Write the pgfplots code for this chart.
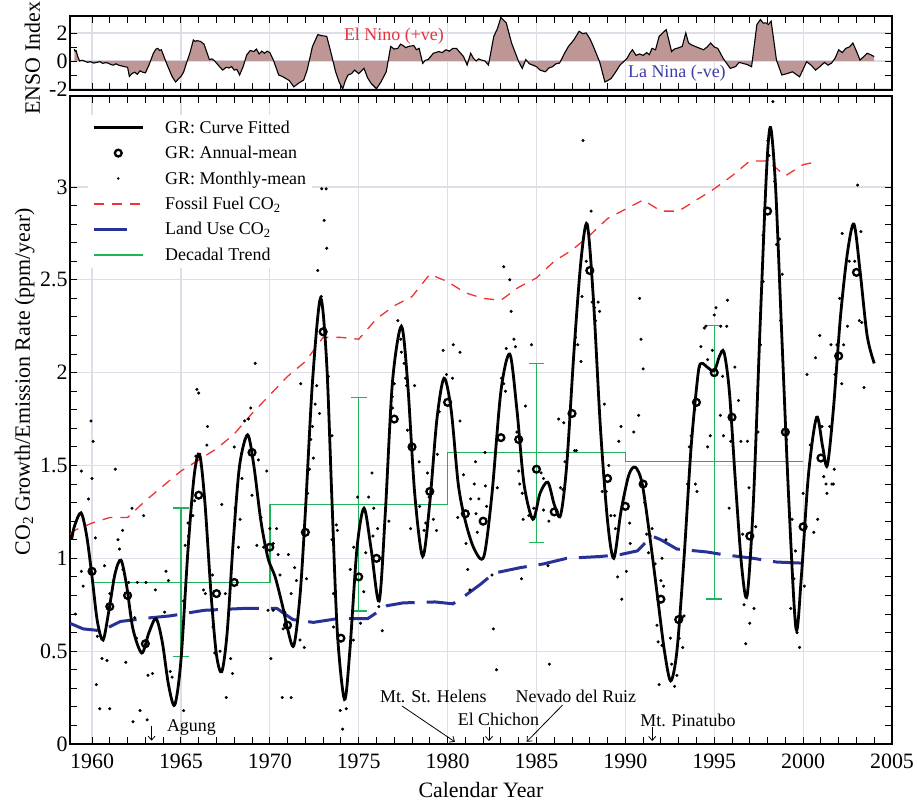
\documentclass[border=0pt]{standalone}
\usepackage{fontspec}
\setmainfont{Liberation Serif}
\usepackage{pgfplots}
\usepackage{pgfplotstable}
\pgfplotsset{compat=1.18}
\usetikzlibrary{arrows.meta}
\definecolor{gridc}{RGB}{222,222,232}
\definecolor{ensofill}{RGB}{190,150,150}
\definecolor{ffred}{RGB}{240,50,50}
\definecolor{lublue}{RGB}{40,50,150}
\definecolor{trendgreen}{RGB}{30,180,90}
\definecolor{ninored}{RGB}{230,50,60}
\definecolor{ninablue}{RGB}{60,60,170}
\newcommand{\lab}{\fontsize{22}{26}\selectfont}
\newcommand{\sml}{\fontsize{18}{21}\selectfont}

\pgfplotstableread{
x y
1959.00 0.84
1959.05 0.70
1959.10 0.75
1959.20 0.30
1959.30 0.00
1959.45 0.05
1959.60 -0.02
1959.75 -0.10
1959.90 -0.05
1960.10 -0.15
1960.26 -0.10
1960.45 -0.05
1960.60 -0.17
1960.75 -0.12
1960.90 -0.15
1961.05 -0.25
1961.20 -0.30
1961.35 -0.20
1961.50 -0.30
1961.65 -0.35
1961.80 -0.40
1962.00 -0.45
1962.10 -1.10
1962.25 -0.90
1962.40 -0.80
1962.55 -0.95
1962.70 -0.70
1962.85 -0.80
1963.00 -0.85
1963.20 -0.30
1963.45 0.55
1963.60 0.85
1963.70 0.90
1963.80 0.75
1963.90 0.80
1964.20 -0.20
1964.50 -1.10
1964.70 -1.50
1964.85 -1.30
1965.00 -1.10
1965.15 -0.80
1965.30 -0.20
1965.50 0.55
1965.70 1.50
1965.80 1.40
1965.90 1.45
1966.10 1.40
1966.30 1.20
1966.60 0.10
1966.75 0.15
1966.90 0.00
1967.10 -0.30
1967.35 -0.65
1967.55 -0.45
1967.70 -0.50
1967.85 -0.40
1968.00 -0.65
1968.15 -0.60
1968.30 -1.00
1968.50 -0.40
1968.70 0.43
1968.90 0.75
1969.10 0.67
1969.25 0.85
1969.40 0.50
1969.55 0.70
1969.70 0.55
1969.85 0.70
1970.00 0.60
1970.20 0.07
1970.50 -1.00
1970.70 -1.10
1970.90 -1.25
1971.10 -1.40
1971.35 -1.85
1971.60 -1.60
1971.90 -1.37
1972.10 -0.65
1972.40 1.04
1972.70 1.88
1972.95 1.80
1973.20 1.76
1973.40 0.80
1973.70 -0.77
1973.90 -1.50
1974.10 -1.98
1974.25 -1.40
1974.40 -1.00
1974.60 -0.90
1974.77 -0.65
1975.00 -0.90
1975.30 -0.53
1975.50 -1.20
1975.70 -1.60
1976.00 -1.98
1976.25 -1.50
1976.55 -0.77
1976.80 1.04
1977.00 0.85
1977.20 0.90
1977.35 1.20
1977.50 1.10
1977.65 0.95
1977.80 1.04
1978.10 1.10
1978.25 0.80
1978.40 0.90
1978.60 -0.17
1978.75 0.05
1978.90 0.10
1979.20 0.55
1979.50 0.67
1979.70 0.60
1979.90 0.80
1980.10 0.70
1980.30 0.90
1980.50 0.90
1980.70 0.60
1980.90 0.31
1981.10 -0.29
1981.30 0.55
1981.45 0.20
1981.60 0.00
1981.75 0.15
1981.90 0.07
1982.10 0.00
1982.30 -0.29
1982.60 1.76
1982.80 2.30
1983.00 3.10
1983.30 2.72
1983.60 1.28
1984.00 -0.05
1984.20 -0.53
1984.40 0.10
1984.60 -0.20
1984.80 -0.30
1985.00 -0.40
1985.20 -0.65
1985.50 -0.77
1985.70 -0.50
1985.90 -0.41
1986.10 -0.20
1986.30 -0.15
1986.60 0.60
1986.80 1.04
1987.10 1.50
1987.40 2.12
1987.60 1.95
1987.80 2.00
1988.00 1.60
1988.20 1.04
1988.55 -0.05
1988.85 -1.50
1989.00 -1.40
1989.20 -1.25
1989.50 -0.70
1989.70 -0.29
1990.10 0.19
1990.25 0.55
1990.40 0.80
1990.60 0.40
1990.80 0.50
1991.00 0.40
1991.20 0.60
1991.35 0.45
1991.50 0.90
1991.70 0.80
1991.90 1.76
1992.30 2.24
1992.60 0.67
1992.75 0.85
1992.90 0.90
1993.20 1.04
1993.40 2.00
1993.55 1.30
1993.70 1.16
1994.00 1.00
1994.20 0.90
1994.40 0.80
1994.60 1.00
1994.80 1.28
1995.00 1.00
1995.20 0.90
1995.50 0.19
1995.90 -0.53
1996.20 -0.40
1996.40 -0.10
1996.60 -0.17
1996.85 -0.25
1997.10 -0.41
1997.40 2.60
1997.60 2.96
1997.75 2.70
1997.90 2.72
1998.05 2.60
1998.20 2.84
1998.50 0.07
1998.80 -1.00
1999.10 -0.90
1999.40 -0.77
1999.60 -0.95
1999.80 -1.13
2000.20 -0.05
2000.45 -0.30
2000.70 -0.65
2000.95 -0.40
2001.20 -0.10
2001.40 -0.30
2001.60 -0.15
2001.80 0.20
2002.00 0.80
2002.20 0.60
2002.40 0.90
2002.60 1.00
2002.80 1.28
2003.00 0.70
2003.20 0.07
2003.40 0.30
2003.60 0.55
2003.80 0.45
2004.00 0.31
}\enso

\pgfplotstableread{
x y
1959.06 0.70
1959.40 1.47
1959.40 0.93
1959.50 0.85
1959.80 1.32
1959.94 1.74
1960.00 1.43
1960.06 1.63
1960.19 1.11
1960.24 0.32
1960.30 0.58
1960.43 0.19
1960.56 0.46
1960.70 0.96
1960.84 0.45
1961.00 0.81
1961.00 0.19
1961.20 0.88
1961.31 1.48
1961.46 1.10
1961.54 1.05
1961.72 1.15
1961.74 0.94
1961.90 0.44
1962.06 0.87
1962.15 0.71
1962.25 1.27
1962.30 0.12
1962.40 0.68
1962.50 0.57
1962.55 0.87
1962.70 0.18
1962.90 1.23
1963.03 0.87
1963.10 0.13
1963.15 0.37
1963.40 0.38
1963.56 0.83
1964.08 0.71
1964.16 0.93
1964.30 0.88
1964.40 0.39
1964.50 0.36
1965.15 0.18
1965.15 0.77
1965.24 1.07
1965.40 1.19
1965.43 1.12
1965.67 1.23
1965.77 1.31
1965.84 1.55
1965.90 1.91
1966.00 1.89
1966.14 1.50
1966.27 0.83
1966.37 0.81
1966.46 1.61
1966.50 1.71
1966.78 0.91
1966.80 0.63
1966.90 0.49
1967.20 0.50
1967.30 1.29
1967.50 0.81
1967.55 0.25
1967.80 0.46
1967.90 0.38
1968.00 1.60
1968.05 1.27
1968.24 1.06
1968.33 1.21
1968.43 1.43
1968.58 1.74
1968.80 1.75
1968.93 1.81
1969.00 1.34
1969.18 2.05
1969.27 1.07
1969.36 1.53
1969.50 1.22
1969.65 1.06
1969.83 1.47
1969.90 0.72
1970.06 0.46
1970.00 1.16
1970.19 1.08
1970.19 0.72
1970.38 1.16
1970.47 1.02
1970.57 0.91
1970.70 0.25
1970.75 0.62
1970.85 0.71
1971.05 1.02
1971.20 0.81
1971.20 0.25
1971.40 0.95
1971.50 0.88
1971.70 0.56
1971.74 1.94
1971.94 0.52
1972.07 0.89
1972.13 1.35
1972.23 1.48
1972.30 1.64
1972.40 1.71
1972.45 1.54
1972.55 1.83
1972.64 1.93
1972.70 2.55
1972.80 1.78
1972.89 2.41
1972.92 2.99
1973.06 2.82
1973.17 2.99
1973.20 2.67
1973.30 1.98
1973.50 1.66
1973.50 1.10
1973.58 0.81
1973.58 0.63
1973.74 1.18
1973.80 1.15
1973.96 0.18
1974.10 0.08
1974.30 0.19
1974.53 0.94
1974.70 0.56
1974.72 1.06
1974.94 1.33
1975.10 0.65
1975.28 0.82
1975.40 1.03
1975.56 1.33
1975.75 1.46
1975.80 1.12
1975.85 1.27
1976.07 1.16
1976.13 0.74
1976.26 1.00
1976.32 0.61
1976.70 1.20
1976.89 1.87
1976.90 1.81
1977.00 1.94
1977.20 2.28
1977.36 2.18
1977.40 2.11
1977.55 2.05
1977.64 1.97
1977.70 1.93
1977.74 1.69
1977.92 1.16
1978.15 1.93
1978.40 1.52
1978.43 1.28
1978.68 1.15
1978.77 1.19
1978.87 1.46
1978.96 1.33
1979.20 1.21
1979.38 1.15
1979.43 1.56
1979.53 1.79
1979.75 2.12
1979.94 1.99
1980.28 1.97
1980.32 2.15
1980.57 1.22
1980.70 2.11
1980.70 1.74
1980.90 1.45
1981.04 1.08
1981.13 0.94
1981.26 0.83
1981.30 1.32
1981.50 1.40
1981.57 1.52
1981.60 1.24
1981.67 1.14
1981.76 1.32
1982.10 1.57
1982.13 1.39
1982.20 1.28
1982.50 0.91
1982.57 0.62
1982.75 0.40
1982.80 1.38
1983.03 1.97
1983.16 2.57
1983.16 1.94
1983.26 1.90
1983.30 2.13
1983.50 2.50
1983.58 2.33
1983.73 2.18
1983.82 2.14
1983.90 1.68
1984.00 1.47
1984.06 1.40
1984.16 0.89
1984.20 1.35
1984.25 1.21
1984.38 1.82
1984.57 1.23
1984.72 2.15
1984.85 1.27
1985.26 1.46
1985.40 1.43
1985.40 1.26
1985.65 0.96
1985.70 1.20
1985.73 0.43
1986.25 1.75
1986.35 1.38
1986.48 1.37
1986.54 1.73
1986.60 1.52
1986.72 1.57
1987.15 1.58
1987.20 2.19
1987.25 1.58
1987.32 2.15
1987.50 2.06
1987.56 2.41
1987.62 3.25
1987.80 2.60
1988.07 2.87
1988.13 2.38
1988.26 2.35
1988.32 2.28
1988.47 2.38
1988.55 2.33
1988.70 1.36
1988.82 1.83
1988.93 1.36
1989.06 1.50
1989.19 1.23
1989.40 1.23
1989.44 1.16
1989.57 0.90
1989.63 1.63
1989.75 1.71
1989.80 0.78
1990.06 0.93
1990.24 1.19
1990.28 1.08
1990.47 1.68
1990.75 1.77
1990.80 2.40
1990.88 2.18
1991.00 2.02
1991.08 1.30
1991.20 1.13
1991.30 1.03
1991.40 1.12
1991.50 1.16
1991.68 0.97
1991.78 0.64
1991.84 0.55
1991.90 0.32
1992.00 0.88
1992.06 1.00
1992.06 0.53
1992.15 0.85
1992.28 1.10
1992.53 0.57
1992.60 0.43
1992.77 0.31
1992.90 0.37
1993.03 0.57
1993.13 0.69
1993.20 0.68
1993.23 0.52
1993.30 0.69
1993.50 1.40
1993.60 1.60
1993.70 1.66
1993.90 1.80
1993.94 1.40
1994.03 1.36
1994.16 2.03
1994.25 2.14
1994.44 2.24
1994.53 2.25
1994.63 2.07
1994.63 1.60
1994.78 1.66
1994.90 2.12
1995.00 2.31
1995.10 2.35
1995.34 1.77
1995.37 2.25
1995.47 1.98
1995.52 1.66
1995.70 2.25
1995.75 2.39
1995.84 1.27
1995.93 1.63
1996.16 2.03
1996.36 1.85
1996.50 1.63
1996.60 1.13
1996.68 0.75
1996.77 0.54
1996.87 1.63
1996.96 1.38
1997.00 0.65
1997.24 0.73
1997.33 1.17
1997.46 1.68
1997.60 2.15
1997.75 2.49
1997.75 2.74
1998.02 3.25
1998.08 3.17
1998.30 3.46
1998.40 3.03
1998.50 2.69
1998.67 2.72
1998.73 2.28
1998.82 2.53
1999.07 1.64
1999.30 0.73
1999.38 1.21
1999.48 0.89
1999.57 1.04
1999.66 0.60
1999.80 0.52
2000.00 1.35
2000.07 0.85
2000.22 1.99
2000.40 1.61
2000.60 1.14
2000.70 2.08
2000.82 1.21
2000.94 2.20
2001.06 1.71
2001.16 1.44
2001.29 1.40
2001.34 1.35
2001.50 1.71
2001.57 2.15
2001.62 1.40
2001.70 1.40
2001.75 1.48
2001.79 1.99
2001.90 2.15
2002.05 2.40
2002.17 1.94
2002.20 2.75
2002.28 2.15
2002.50 2.25
2002.60 2.60
2002.90 2.60
2003.06 3.01
2003.16 2.28
2003.25 2.76
2003.30 2.27
2003.43 1.92
}\monthly

\pgfplotstableread{
x y
1958.85 1.10
1959.00 1.17
1959.38 1.245
1959.70 1.12
1960.00 0.90
1960.30 0.66
1960.62 0.56
1960.95 0.72
1961.30 0.92
1961.63 0.99
1961.95 0.85
1962.30 0.62
1962.80 0.49
1963.20 0.60
1963.60 0.675
1963.95 0.55
1964.30 0.32
1964.65 0.21
1965.00 0.45
1965.40 1.05
1965.75 1.45
1966.05 1.56
1966.35 1.30
1966.70 0.80
1967.00 0.48
1967.30 0.39
1967.60 0.60
1967.95 1.10
1968.30 1.50
1968.75 1.665
1969.10 1.50
1969.50 1.20
1969.90 1.00
1970.30 0.90
1970.70 0.75
1971.00 0.62
1971.35 0.53
1971.70 0.80
1972.00 1.25
1972.40 1.95
1972.85 2.40
1973.20 2.05
1973.50 1.30
1973.80 0.60
1974.20 0.24
1974.50 0.50
1974.90 1.05
1975.30 1.27
1975.70 1.05
1976.15 0.77
1976.50 1.25
1976.90 1.95
1977.40 2.25
1977.75 1.95
1978.15 1.35
1978.60 1.01
1979.00 1.30
1979.40 1.75
1979.80 1.97
1980.20 1.80
1980.60 1.40
1981.00 1.20
1981.50 1.05
1982.04 1.01
1982.50 1.35
1983.00 1.90
1983.50 2.10
1983.90 1.80
1984.30 1.40
1984.80 1.21
1985.20 1.35
1985.64 1.41
1986.00 1.29
1986.35 1.23
1986.70 1.50
1987.10 2.10
1987.50 2.60
1987.85 2.80
1988.20 2.40
1988.60 1.70
1989.00 1.20
1989.35 1.00
1989.75 1.25
1990.20 1.45
1990.57 1.49
1990.95 1.40
1991.40 1.10
1991.80 0.80
1992.20 0.50
1992.55 0.34
1992.90 0.50
1993.30 1.00
1993.70 1.60
1994.10 2.00
1994.30 2.05
1994.60 2.03
1995.00 2.01
1995.30 2.09
1995.55 2.11
1995.85 1.90
1996.20 1.40
1996.55 0.95
1996.85 0.80
1997.20 1.30
1997.60 2.30
1997.95 3.10
1998.17 3.32
1998.45 3.00
1998.80 2.20
1999.20 1.30
1999.60 0.62
1999.90 0.90
2000.30 1.45
2000.76 1.76
2001.10 1.60
2001.36 1.50
2001.70 1.80
2002.10 2.30
2002.50 2.65
2002.86 2.80
2003.20 2.55
2003.60 2.20
2004.00 2.05
}\curve

\pgfplotstableread{
x y
1960 0.93
1961 0.74
1962 0.80
1963 0.54
1966 1.34
1967 0.81
1968 0.87
1969 1.57
1970 1.06
1971 0.64
1972 1.14
1973 2.22
1974 0.57
1975 0.90
1976 1.00
1977 1.75
1978 1.60
1979 1.36
1980 1.84
1981 1.24
1982 1.20
1983 1.65
1984 1.64
1985 1.48
1986 1.25
1987 1.78
1988 2.55
1989 1.43
1990 1.28
1991 1.40
1992 0.78
1993 0.67
1994 1.84
1995 2.00
1996 1.76
1997 1.12
1998 2.87
1999 1.68
2000 1.17
2001 1.54
2002 2.09
2003 2.54
}\annual

\pgfplotstableread{
x y
1958.76 1.13
1959 1.15
1960 1.19
1961 1.22
1962 1.22
1963 1.31
1964 1.39
1965 1.47
1966 1.53
1967 1.59
1968 1.67
1969 1.78
1970 1.88
1971 1.98
1972 2.06
1973 2.19
1974 2.19
1975 2.18
1976 2.29
1977 2.36
1978 2.41
1979 2.53
1980 2.49
1981 2.43
1982 2.40
1983 2.39
1984 2.46
1985 2.51
1986 2.60
1987 2.66
1988 2.74
1989 2.83
1990 2.88
1991 2.93
1992 2.87
1993 2.87
1994 2.93
1995 2.99
1996 3.06
1997 3.14
1998 3.14
1999 3.06
2000 3.12
2000.5 3.13
}\fossil

\pgfplotstableread{
x y
1958.76 0.65
1959.5 0.62
1960.5 0.61
1960.75 0.62
1961.6 0.66
1963.3 0.68
1964.4 0.69
1966.3 0.72
1968.5 0.73
1970.4 0.73
1971.3 0.67
1972.45 0.655
1973.8 0.675
1975.5 0.675
1976.6 0.745
1977.5 0.76
1979.3 0.765
1980.3 0.755
1981.0 0.80
1981.85 0.86
1982.6 0.92
1984.1 0.95
1985.4 0.97
1986.7 1.00
1988.6 1.01
1989.7 1.02
1990.67 1.04
1991.5 1.12
1992.0 1.10
1992.9 1.05
1994.6 1.034
1995.5 1.02
1997.2 1.00
1998.5 0.98
2000.0 0.974
}\landuse

\begin{document}
\begin{tikzpicture}
\pgfplotsset{
 common/.style={
  scale only axis, width=822bp,
  xmin=1958.76, xmax=2005,
  xtick={1960,1965,1970,1975,1980,1985,1990,1995,2000,2005},
  minor x tick num=4,
  tick align=inside,
  major tick length=7bp, minor tick length=7bp,
  tick style={black, line width=0.9bp},
  grid=major,
  major grid style={gridc, line width=1.2bp},
  axis line style={line width=1.5bp},
  tick label style={font=\lab},
  label style={font=\lab},
  yticklabel style={anchor=east, xshift=1bp},
 }
}
\begin{axis}[common, at={(0,0)}, anchor=south west, height=648bp,
 ymin=0, ymax=3.49,
 ytick={0,0.5,1,1.5,2,2.5,3}, yticklabels={0,0.5,1,1.5,2,2.5,3},
 minor y tick num=4,
 xticklabels={1960,1965,1970,1975,1980,1985,1990,1995,2000,2005},
 xticklabel style={anchor=base, yshift=-24bp},
 xlabel={Calendar Year},
 xlabel style={at={(axis description cs:0.5,-0.0818)}, anchor=base},
 ylabel={CO\textsubscript{2} Growth/Emission Rate (ppm/year)},
 ylabel style={at={(axis description cs:-0.0487,0.559)}, anchor=base},
 unbounded coords=jump,
 legend style={at={(axis description cs:0.022,0.9714)}, anchor=north west,
   draw=none, fill=white, font=\sml, row sep=7.5bp, column sep=19bp,
   inner xsep=4bp, inner ysep=4bp},
 legend cell align=left,
]
\addlegendimage{legend image code/.code={\draw[black, line width=2.8bp] (0bp,0bp) -- (49bp,0bp);}}
\addlegendentry{GR: Curve Fitted}
\addlegendimage{legend image code/.code={\path[draw=none,fill=none] (0bp,0bp) -- (49bp,0bp); \draw[black, line width=2.3bp, fill=none] (24.5bp,0bp) circle (3.4bp);}}
\addlegendentry{GR: Annual-mean}
\addlegendimage{legend image code/.code={\path[draw=none,fill=none] (0bp,0bp) -- (49bp,0bp); \fill[black, draw=none] (24.5bp,0bp) circle (1.4bp);}}
\addlegendentry{GR: Monthly-mean}
\addlegendimage{legend image code/.code={\draw[ffred, line width=1.3bp, dash pattern=on 10bp off 8bp] (0bp,0bp) -- (49bp,0bp);}}
\addlegendentry{Fossil Fuel CO\textsubscript{2}}
\addlegendimage{legend image code/.code={\path[draw=none,fill=none] (0bp,0bp) -- (49bp,0bp); \draw[lublue, line width=3bp, solid] (0bp,0bp) -- (33bp,0bp);}}
\addlegendentry{Land Use CO\textsubscript{2}}
\addlegendimage{legend image code/.code={\draw[trendgreen, line width=1.5bp] (0bp,0bp) -- (49bp,0bp);}}
\addlegendentry{Decadal Trend}

% decadal trend
\addplot[forget plot, trendgreen, line width=1.4bp] coordinates {
 (1960,0.87) (1970,0.87) (1970,1.29) (1980,1.29) (1980,1.57) (1990,1.57) (1990,1.52) (2000,1.52)};
\addplot[forget plot, trendgreen, line width=1.4bp] coordinates {
 (1965,0.47) (1965,1.27) (nan,nan)
 (1964.56,0.47) (1965.44,0.47) (nan,nan)
 (1964.56,1.27) (1965.44,1.27) (nan,nan)
 (1975,0.717) (1975,1.865) (nan,nan)
 (1974.56,0.717) (1975.44,0.717) (nan,nan)
 (1974.56,1.865) (1975.44,1.865) (nan,nan)
 (1985,1.086) (1985,2.048) (nan,nan)
 (1984.56,1.086) (1985.44,1.086) (nan,nan)
 (1984.56,2.048) (1985.44,2.048) (nan,nan)
 (1995,0.782) (1995,2.254) (nan,nan)
 (1994.56,0.782) (1995.44,0.782) (nan,nan)
 (1994.56,2.254) (1995.44,2.254)};
% fossil fuel
\addplot[forget plot, ffred, line width=1.3bp, dash pattern=on 10bp off 8bp] table[x=x,y=y] {\fossil};
% land use
\addplot[forget plot, lublue, line width=3bp, dash pattern=on 29bp off 12bp] table[x=x,y=y] {\landuse};
% monthly
\addplot[forget plot, only marks, mark=*, mark size=1.35bp, black] table[x=x,y=y] {\monthly};
% curve
\addplot[forget plot, black, line width=2.8bp, smooth, tension=0.5] table[x=x,y=y] {\curve};
% annual
\addplot[forget plot, only marks, mark=o, mark size=3.4bp, black, mark options={line width=2.3bp}] table[x=x,y=y] {\annual};

% volcano annotations
\node[font=\sml, anchor=base] at (axis cs:1965.59,0.065) {Agung};
\node[font=\sml, anchor=base] at (axis cs:1979.2,0.226) {Mt. St. Helens};
\node[font=\sml, anchor=base] at (axis cs:1982.86,0.097) {El Chichon};
\node[font=\sml, anchor=base] at (axis cs:1987.22,0.226) {Nevado del Ruiz};
\node[font=\sml, anchor=base] at (axis cs:1993.52,0.092) {Mt. Pinatubo};
\draw[-{Straight Barb[length=4bp,width=7bp]}, line width=0.8bp] (axis cs:1963.35,0.097) -- (axis cs:1963.35,0.018);
\draw[-{Straight Barb[length=4bp,width=7bp]}, line width=0.8bp] (axis cs:1977.43,0.205) -- (axis cs:1980.41,0.012);
\draw[-{Straight Barb[length=4bp,width=7bp]}, line width=0.8bp] (axis cs:1982.33,0.092) -- (axis cs:1982.33,0.016);
\draw[-{Straight Barb[length=4bp,width=7bp]}, line width=0.8bp] (axis cs:1986.47,0.21) -- (axis cs:1984.45,0.012);
\draw[-{Straight Barb[length=4bp,width=7bp]}, line width=0.8bp] (axis cs:1991.51,0.092) -- (axis cs:1991.51,0.016);
\end{axis}

\begin{axis}[common, at={(0,654bp)}, anchor=south west, height=74bp,
 ymin=-2.07, ymax=3.21,
 ytick={-2,0,2}, yticklabels={-2,0,2},
 minor y tick num=1,
 xticklabels={},
 ylabel={ENSO Index},
 ylabel style={at={(axis description cs:-0.0365,0.43)}, anchor=base},
]
\addplot[fill=ensofill, draw=none] table[x=x,y=y] {\enso} \closedcycle;
\addplot[black, line width=1.1bp] table[x=x,y=y] {\enso};
\node[font=\sml, text=ninored, anchor=base] at (axis cs:1976.98,1.43) {El Nino (+ve)};
\node[font=\sml, text=ninablue, anchor=base] at (axis cs:1992.9,-1.18) {La Nina (-ve)};
\end{axis}
\pgfresetboundingbox
\useasboundingbox (-70bp,-58bp) rectangle (847bp,744bp);
\end{tikzpicture}
\end{document}
